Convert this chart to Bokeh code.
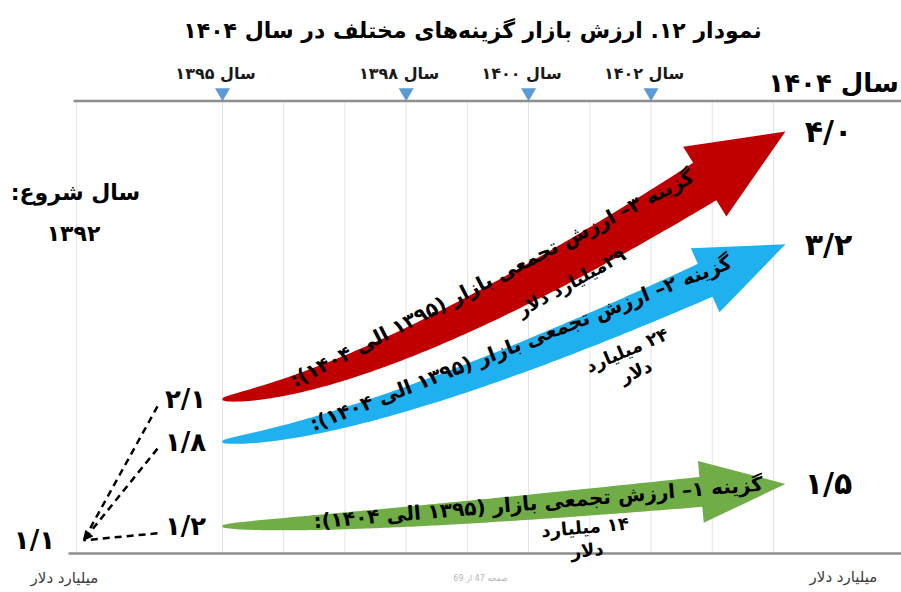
import numpy as np
from bokeh.plotting import figure
from bokeh.models import Range1d, Arrow, NormalHead
from bokeh.core.properties import value
from bokeh.embed import file_html
from bokeh.resources import INLINE

# ---------------- data ----------------
start_year = 1392
base_year = 1395
end_year = 1404
start_value = 1.1                      # billion dollars in 1392
option_numbers = [1, 2, 3]
value_base = [1.2, 1.8, 2.1]           # value in 1395
value_end = [1.5, 3.2, 4.0]            # value in 1404
cumulative = [14, 24, 29]              # cumulative market value 1395-1404
option_colors = ["#70ad47", "#1fb0ef", "#c00000"]
milestone_years = [1395, 1398, 1400, 1402]
grid_years = [1392] + list(range(1395, 1405))

# ---------------- helpers ----------------
FA_DIGITS = str.maketrans("0123456789", "۰۱۲۳۴۵۶۷۸۹")


def fa(v, decimals=None):
    s = f"{v:.{decimals}f}" if decimals is not None else str(v)
    return s.replace(".", "/").translate(FA_DIGITS)


def rtl(s):
    return "\u202b" + s + "\u202c"


def xpos(year):
    # the lead-in years before 1395 are drawn compressed
    return year if year >= base_year else base_year - (base_year - year) * 0.795


W, H = 901, 592
PX_PER_YEAR = 61.22
X0 = base_year - 222 / PX_PER_YEAR
X1 = X0 + W / PX_PER_YEAR
Y0, Y1 = 0.730, 4.929
KX = W / (X1 - X0)
KY = H / (Y1 - Y0)


def to_px(x, y):
    return np.array([(x - X0) * KX, (y - Y0) * KY])


def from_px(pts):
    pts = np.atleast_2d(pts)
    return pts[:, 0] / KX + X0, pts[:, 1] / KY + Y0


def swoosh(S, T, tail_w, body_w, head_w, head_len):
    """Curved, widening arrow from S to tip T (pixel space, y up)."""
    chord = T - S
    a_c = np.arctan2(chord[1], chord[0])
    a_h = a_c * 1.25
    d = np.array([np.cos(a_h), np.sin(a_h)])
    B = T - head_len * d
    a_s = a_c * 0.25
    u = np.array([np.cos(a_s), np.sin(a_s)])
    s, k = np.linalg.solve(np.column_stack([u, d]), B - S)
    C = S + s * u
    t = np.linspace(0, 1, 120)[:, None]
    P = (1 - t) ** 2 * S + 2 * (1 - t) * t * C + t ** 2 * B
    dP = 2 * (1 - t) * (C - S) + 2 * t * (B - C)
    tang = dP / np.linalg.norm(dP, axis=1, keepdims=True)
    nrm = np.column_stack([-tang[:, 1], tang[:, 0]])
    w = tail_w + (body_w - tail_w) * t[:, 0] ** 0.6
    top = P + nrm * (w[:, None] / 2)
    bot = P - nrm * (w[:, None] / 2)
    n_h = np.array([-d[1], d[0]])
    head = np.array([B + n_h * head_w / 2, T, B - n_h * head_w / 2])
    outline = np.vstack([top, head, bot[::-1]])
    return outline, P, tang, nrm, w


# ---------------- figure ----------------
p = figure(width=W, height=H, x_range=Range1d(X0, X1), y_range=Range1d(Y0, Y1),
           output_backend="svg", toolbar_location=None, min_border=0,
           x_axis_location=None, y_axis_location=None,
           background_fill_color="white", border_fill_color="white")
p.outline_line_color = None
p.grid.visible = False
p.extra_x_ranges = {"cx": Range1d(0, W)}
p.extra_y_ranges = {"cy": Range1d(H, 0)}

FONT = value("DejaVu Sans")

# vertical year grid
gx = [xpos(y) for y in grid_years]
p.segment(x0=gx, y0=[100] * len(gx), x1=gx, y1=[553] * len(gx),
          y_range_name="cy", line_color="#e2e2e2", line_width=1)

# top timeline and baseline
p.segment(x0=[73, 68], y0=[100.5, 553], x1=[W, W], y1=[100.5, 553],
          x_range_name="cx", y_range_name="cy", line_color="#8e8e8e", line_width=2.5)

# milestone markers and labels
p.scatter(x=milestone_years, y=[92] * len(milestone_years), y_range_name="cy",
          marker="inverted_triangle", size=15, fill_color="#5b9bd5", line_color=None)
p.text(x=milestone_years, y=[73] * len(milestone_years), y_range_name="cy",
       text=[rtl(f"سال {fa(y)}") for y in milestone_years], x_offset=-7,
       text_font=FONT, text_font_style="bold", text_font_size="16px",
       text_align="center", text_baseline="middle", text_color="#1a1a1a")
p.text(x=[end_year], y=[82], y_range_name="cy", text=[rtl(f"سال {fa(end_year)}")],
       x_offset=60, text_font=FONT, text_font_style="bold", text_font_size="26px",
       text_align="center", text_baseline="middle", text_color="black")

# title
p.text(x=[472], y=[30], x_range_name="cx", y_range_name="cy",
       text=[rtl(f"نمودار {fa(12)}. ارزش بازار گزینه\u200cهای مختلف در سال {fa(end_year)}")],
       text_font=FONT, text_font_style="bold", text_font_size="22px",
       text_align="center", text_baseline="middle", text_color="black")

# start year block
p.text(x=[75, 73], y=[192, 233], x_range_name="cx", y_range_name="cy",
       text=[rtl("سال شروع:"), fa(start_year)],
       text_font=FONT, text_font_style="bold", text_font_size="22px",
       text_align="center", text_baseline="middle", text_color="black")

# unit labels and page footer
p.text(x=[64, 843], y=[577, 576], x_range_name="cx", y_range_name="cy",
       text=[rtl("میلیارد دلار")] * 2, text_font=FONT, text_font_size="15px",
       text_align="center", text_baseline="middle", text_color="#3c3c3c")
p.text(x=[480], y=[578], x_range_name="cx", y_range_name="cy",
       text=[rtl("صفحه 47 از 69")], text_font=FONT, text_font_size="8px",
       text_align="center", text_baseline="middle", text_color="#b5b5b5")

# dashed lead-in lines from the 1392 value to each 1395 value
A = to_px(xpos(start_year), start_value) + np.array([7, 0])
label_dx = -37
for i, v in enumerate(value_base):
    L = to_px(base_year, v) + np.array([label_dx - 28, -7])
    (xa,), (ya,) = from_px(A)
    (xl,), (yl,) = from_px(L)
    head = NormalHead(size=9, fill_color="black", line_color="black") if i == 1 else None
    p.add_layout(Arrow(x_start=xl, y_start=yl, x_end=xa, y_end=ya, end=head,
                       line_color="black", line_width=2.5, line_dash="7 5"))

p.text(x=[xpos(start_year)], y=[start_value], text=[fa(start_value, 1)], x_offset=-42,
       text_font=FONT, text_font_style="bold", text_font_size="26px",
       text_align="center", text_baseline="middle", text_color="black")
p.text(x=[base_year] * 3, y=value_base, text=[fa(v, 1) for v in value_base],
       x_offset=label_dx, text_font=FONT, text_font_style="bold", text_font_size="26px",
       text_align="center", text_baseline="middle", text_color="black")
p.text(x=[end_year] * 3, y=value_end, text=[fa(v, 1) for v in value_end],
       x_offset=55, text_font=FONT, text_font_style="bold", text_font_size="30px",
       text_align="center", text_baseline="middle", text_color="black")

# growth arrows with their captions
arrow_style = {
    1: dict(tail_w=2, body_w=30, head_w=62, head_len=85),
    2: dict(tail_w=2, body_w=36, head_w=70, head_len=88),
    3: dict(tail_w=2, body_w=44, head_w=82, head_len=95),
}
# caption placement: fraction of the arrow's horizontal span, offset from the centre line
caption_style = {
    1: dict(f_main=0.56, off_main=4, f_amt=0.64, off_amt=-36, amt_lines=2),
    2: dict(f_main=0.54, off_main=14, f_amt=0.70, off_amt=-44, amt_lines=2),
    3: dict(f_main=0.50, off_main=22, f_amt=0.60, off_amt=-19, amt_lines=1),
}
for n, v0, v1, total, color in zip(option_numbers, value_base, value_end,
                                   cumulative, option_colors):
    S = to_px(base_year, v0)
    T = to_px(end_year, v1) + np.array([12, 0])
    outline, P, tang, nrm, w = swoosh(S, T, **arrow_style[n])
    ax, ay = from_px(outline)
    p.patch(ax, ay, fill_color=color, line_color=None)

    cs = caption_style[n]
    main = rtl(f"گزینه {fa(n)}– ارزش تجمعی بازار ({fa(base_year)} الی {fa(end_year)}):")
    if cs["amt_lines"] == 1:
        amt = rtl(f"{fa(total)}میلیارد دلار")
    else:
        amt = rtl(f"{fa(total)} میلیارد") + "\n" + rtl("دلار")
    for txt, frac, off, size in [(main, cs["f_main"], cs["off_main"], "20px"),
                                 (amt, cs["f_amt"], cs["off_amt"], "18px")]:
        target_x = S[0] + frac * (T[0] - S[0])
        k = int(np.argmin(np.abs(P[:, 0] - target_x)))
        pos = P[k] + nrm[k] * off
        ang = float(np.arctan2(tang[k, 1], tang[k, 0]))
        (tx,), (ty,) = from_px(pos)
        p.text(x=[tx], y=[ty], text=[txt], angle=ang, text_font=FONT,
               text_font_style="bold", text_font_size=size, text_align="center",
               text_baseline="middle", text_color="black", text_line_height=1.1)

open("out.html", "w").write(file_html(p, INLINE))
